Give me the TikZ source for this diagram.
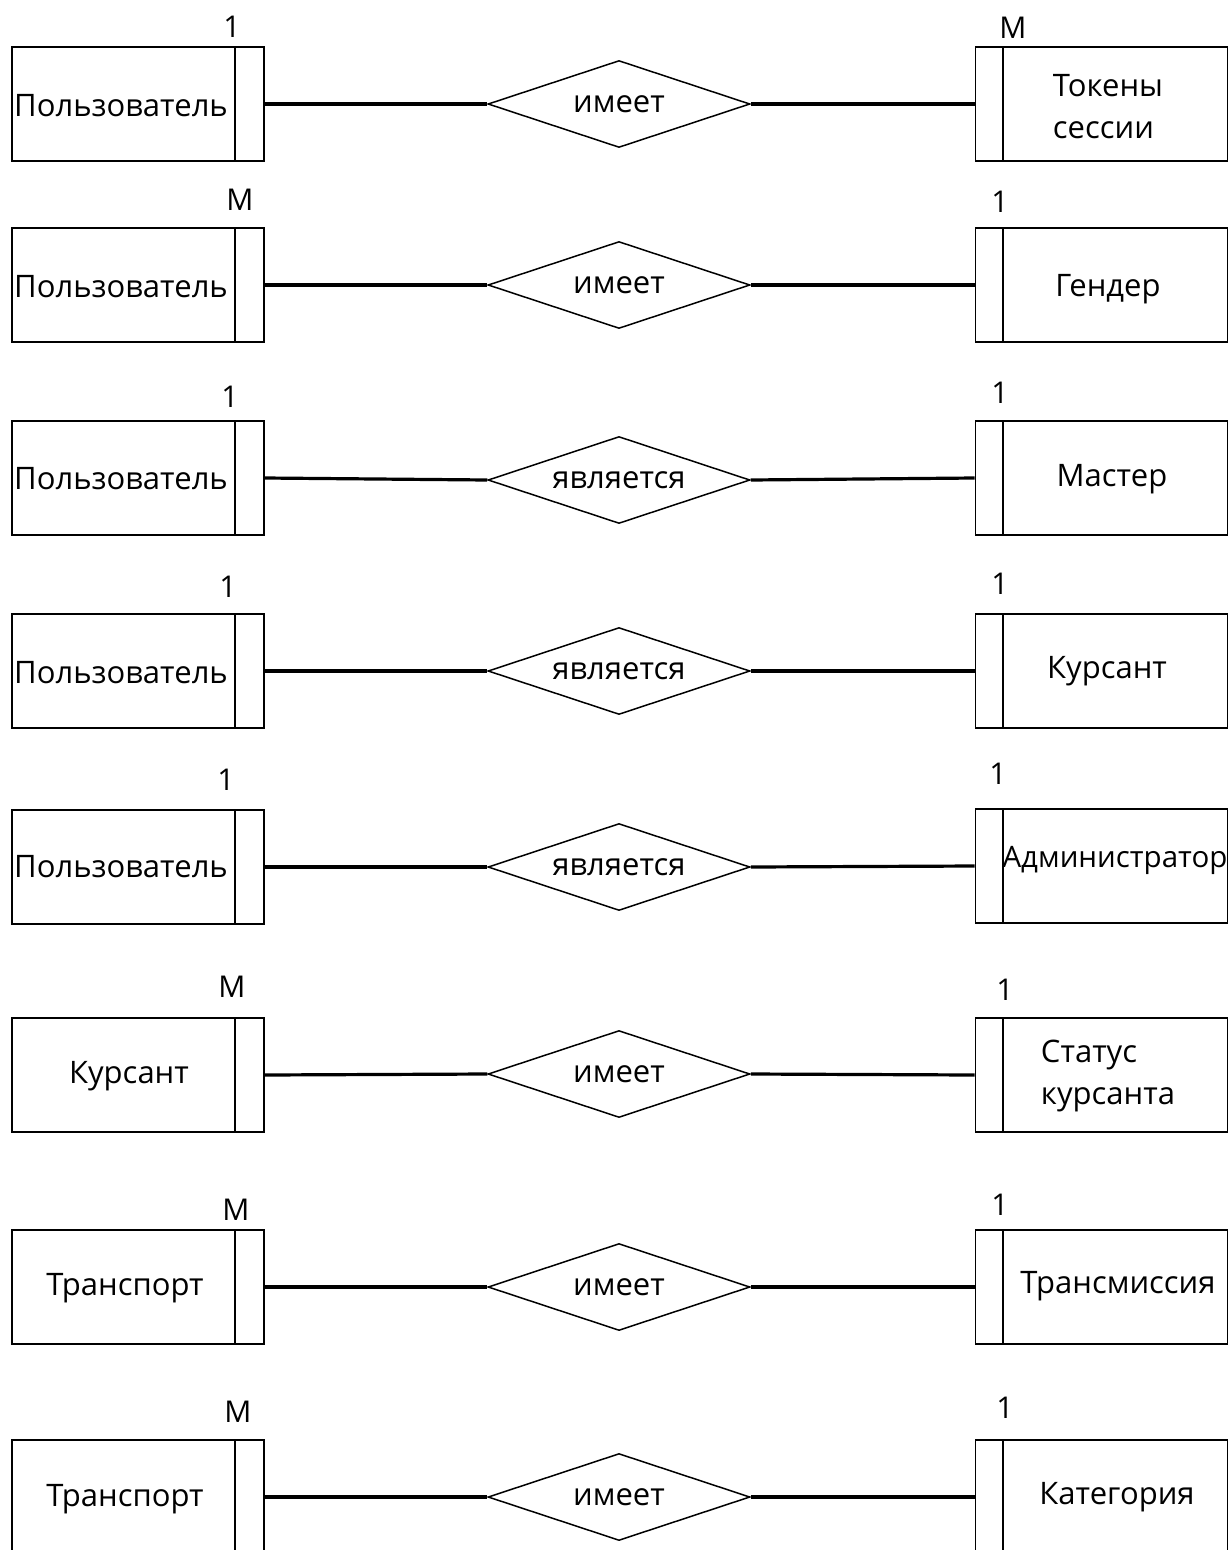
\documentclass[tikz,border=0pt]{standalone}
\usepackage{fontspec}
\setmainfont{Open Sans}
\usetikzlibrary{shapes.geometric}
\tikzset{
  ent/.style={draw, line width=1.8pt, minimum width=252pt, minimum height=114pt, inner sep=0pt},
  bar/.style={line width=1.8pt},
  rel/.style={draw, diamond, aspect=3, line width=1.5pt, minimum width=262pt, minimum height=87pt, inner sep=0pt,
              font=\fontsize{31}{36}\selectfont},
  conn/.style={line width=3.2pt},
  card/.style={font=\fontsize{30}{34}\selectfont, inner sep=0pt},
  lbl/.style={font=\fontsize{31}{42}\selectfont, align=left, inner sep=0pt},
}
% Left entity of a row: box, inner bar 30pt from its right side
\newcommand{\leftent}[2]{%
  \node[ent] (#1) at (138,#2) {};
  \draw[bar] ([xshift=-30pt]#1.north east) -- ([xshift=-30pt]#1.south east);
}
% Right entity of a row: box, inner bar 28pt from its left side
\newcommand{\rightent}[2]{%
  \node[ent] (#1) at (1101.5,#2) {};
  \draw[bar] ([xshift=28pt]#1.north west) -- ([xshift=28pt]#1.south west);
}
\begin{document}
\begin{tikzpicture}[x=1pt,y=-1pt]
  \useasboundingbox (0,0) rectangle (1230,1550);
  \clip (0,0) rectangle (1230,1550);
  \fill[white] (0,0) rectangle (1230,1550);

  % Row 1
  \leftent{la}{104}
  \node[lbl] (lta) at (121,106) {Пользователь};
  \node[card] (lca) at (232,27) {1};
  \node[rel] (ra) at (619,104) {имеет};
  \rightent{ea}{104}
  \node[lbl] (eta) at (1108,107) {Токены\\сессии};
  \node[card] (eca) at (1013,28) {M};
  \draw[conn] (la.east) -- (ra.west);
  \draw[conn] (ra.east) -- (ea.west);

  % Row 2
  \leftent{lb}{285}
  \node[lbl] (ltb) at (121,287) {Пользователь};
  \node[card] (lcb) at (240,200) {M};
  \node[rel] (rb) at (619,285) {имеет};
  \rightent{eb}{285}
  \node[lbl] (etb) at (1108,289) {Гендер};
  \node[card] (ecb) at (1000,202) {1};
  \draw[conn] (lb.east) -- (rb.west);
  \draw[conn] (rb.east) -- (eb.west);

  % Row 3
  \leftent{lc}{478}
  \node[lbl] (ltc) at (121,479) {Пользователь};
  \node[card] (lcc) at (230,397) {1};
  \node[rel] (rc) at (619,480) {является};
  \rightent{ec}{478}
  \node[lbl] (etc) at (1112,479) {Мастер};
  \node[card] (ecc) at (1000,393) {1};
  \draw[conn] (lc.east) -- (rc.west);
  \draw[conn] (rc.east) -- (ec.west);

  % Row 4
  \leftent{ld}{671}
  \node[lbl] (ltd) at (121,673) {Пользователь};
  \node[card] (lcd) at (228,587) {1};
  \node[rel] (rd) at (619,671) {является};
  \rightent{ed}{671}
  \node[lbl] (etd) at (1107,671) {Курсант};
  \node[card] (ecd) at (1000,584) {1};
  \draw[conn] (ld.east) -- (rd.west);
  \draw[conn] (rd.east) -- (ed.west);

  % Row 5
  \leftent{le}{867}
  \node[lbl] (lte) at (121,867) {Пользователь};
  \node[card] (lce) at (226,780) {1};
  \node[rel] (re) at (619,867) {является};
  \rightent{ee}{866}
  \node[lbl, font=\fontsize{29.5}{40}\selectfont] (ete) at (1115,860) {Администратор};
  \node[card] (ece) at (998,774) {1};
  \draw[conn] (le.east) -- (re.west);
  \draw[conn] (re.east) -- (ee.west);

  % Row 6
  \leftent{lf}{1075}
  \node[lbl] (ltf) at (129,1076) {Курсант};
  \node[card] (lcf) at (232,987) {M};
  \node[rel] (rf) at (619,1074) {имеет};
  \rightent{ef}{1075}
  \node[lbl] (etf) at (1108,1076) {Статус\\курсанта};
  \node[card] (ecf) at (1005,990) {1};
  \draw[conn] (lf.east) -- (rf.west);
  \draw[conn] (rf.east) -- (ef.west);

  % Row 7
  \leftent{lg}{1287}
  \node[lbl] (ltg) at (125,1288) {Транспорт};
  \node[card] (lcg) at (236,1210) {M};
  \node[rel] (rg) at (619,1287) {имеет};
  \rightent{eg}{1287}
  \node[lbl] (etg) at (1118,1286) {Трансмиссия};
  \node[card] (ecg) at (1000,1205) {1};
  \draw[conn] (lg.east) -- (rg.west);
  \draw[conn] (rg.east) -- (eg.west);

  % Row 8 (runs past the lower edge)
  \leftent{lh}{1497}
  \node[lbl] (lth) at (125,1499) {Транспорт};
  \node[card] (lch) at (238,1412) {M};
  \node[rel] (rh) at (619,1497) {имеет};
  \rightent{eh}{1497}
  \node[lbl] (eth) at (1117,1497) {Категория};
  \node[card] (ech) at (1005,1408) {1};
  \draw[conn] (lh.east) -- (rh.west);
  \draw[conn] (rh.east) -- (eh.west);
\end{tikzpicture}
\end{document}
